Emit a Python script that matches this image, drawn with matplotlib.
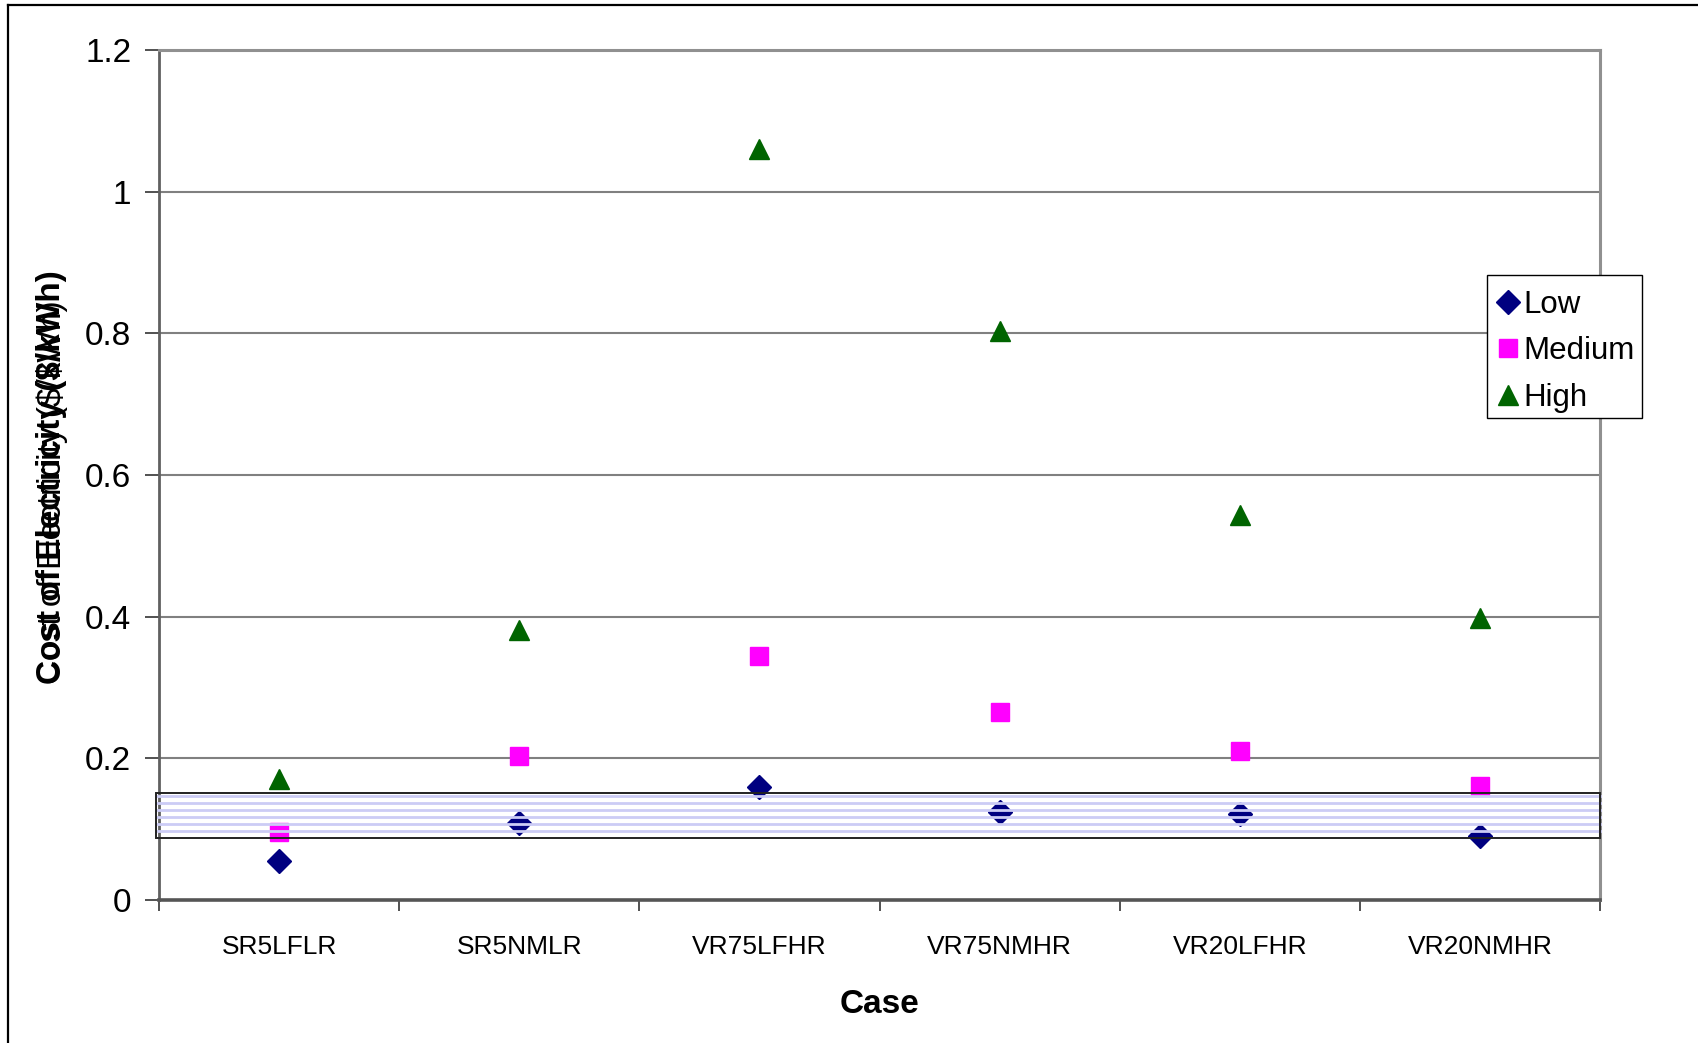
import matplotlib
matplotlib.use("Agg")
import matplotlib.pyplot as plt
from matplotlib.patches import Rectangle
from matplotlib.lines import Line2D

plt.rcParams['font.family'] = ['Liberation Sans', 'DejaVu Sans']

categories = ["SR5LFLR", "SR5NMLR", "VR75LFHR", "VR75NMHR", "VR20LFHR", "VR20NMHR"]
low = [0.055, 0.109, 0.159, 0.124, 0.121, 0.090]
medium = [0.096, 0.203, 0.344, 0.265, 0.211, 0.161]
high = [0.171, 0.381, 1.060, 0.803, 0.544, 0.398]
yticks = [0, 0.2, 0.4, 0.6, 0.8, 1.0, 1.2]
ytick_labels = ["0", "0.2", "0.4", "0.6", "0.8", "1", "1.2"]
band = (0.0875, 0.151)
band_lines = [0.147, 0.137, 0.127, 0.117, 0.107, 0.097]

W, H = 1698, 1043
fig = plt.figure(figsize=(W / 100, H / 100), dpi=100)
fig.patch.set_facecolor('white')

# outer frame (partially visible)
fig.add_artist(Line2D([8 / W, 8 / W], [0, 1 - 5 / H], color='black', lw=1.6, transform=fig.transFigure))
fig.add_artist(Line2D([8 / W, 1], [1 - 5 / H, 1 - 5 / H], color='black', lw=1.6, transform=fig.transFigure))

L, R, T, B = 159, 1600, 50, 900
ax = fig.add_axes([L / W, 1 - B / H, (R - L) / W, (B - T) / H])
x = list(range(len(categories)))
ax.set_xlim(-0.5, len(categories) - 0.5)
ax.set_ylim(0, 1.2)

for yv in yticks[1:]:
    ax.axhline(yv, color='#808080', lw=1.5, zorder=1)

ax.plot(x, low, linestyle='none', marker='D', ms=12, color='#000080', label='Low', zorder=3)
ax.plot(x, medium, linestyle='none', marker='s', ms=13, color='#ff00ff', label='Medium', zorder=3)
ax.plot(x, high, linestyle='none', marker='^', ms=15, color='#006400', label='High', zorder=3)

# odd band
tr = ax.get_yaxis_transform()
for yv in band_lines:
    ax.plot([-0.002, 1.0], [yv, yv], transform=tr, color='#ccccf5', lw=2.0, zorder=4, clip_on=False)
ax.add_patch(Rectangle((-0.002, band[0]), 1.002, band[1] - band[0], transform=tr,
                       fill=False, edgecolor='#222222', lw=1.4, zorder=5, clip_on=False))

ax.set_yticks(yticks)
ax.set_yticklabels(ytick_labels, fontsize=24)
ax.set_xticks(x)
ax.set_xticklabels(categories, fontsize=19)
ax.set_xticks([i - 0.5 for i in range(len(categories) + 1)], minor=True)
ax.tick_params(axis='x', which='major', length=0, pad=25)
ax.tick_params(axis='x', which='minor', length=8, width=1.2, color='#333333', direction='out')
ax.tick_params(axis='y', length=10, width=1.2, color='#333333', direction='out', pad=10)

for s in ['top', 'right']:
    ax.spines[s].set_color('#909090')
    ax.spines[s].set_linewidth(2.2)
ax.spines['left'].set_color('#606060')
ax.spines['left'].set_linewidth(2.0)
ax.spines['bottom'].set_color('#555555')
ax.spines['bottom'].set_linewidth(2.6)

ax.set_xlabel("Case", fontsize=24, fontweight='bold', labelpad=22)

# y label (doubled text as in the reference)
fig.text(52 / W, 1 - 684 / H, "Cost of Electricity ($/kWh)", rotation=90, fontsize=24,
         fontweight='bold', ha='center', va='bottom')
fig.text(52 / W, 1 - 684 / H, "Cost of Electricity ($/kWh)", rotation=90, fontsize=24,
         fontweight='normal', ha='center', va='bottom')

# legend box drawn separately, legend entries without frame
fig.add_artist(Rectangle((1487 / W, 1 - 418 / H), (1642 - 1487) / W, (418 - 275) / H,
                         transform=fig.transFigure, facecolor='white', edgecolor='black', lw=1.0, zorder=6))
leg = ax.legend(loc='upper left', bbox_to_anchor=(1487 / W, 1 - 275 / H), bbox_transform=fig.transFigure,
                fontsize=22.5, frameon=False, borderpad=0.47,
                handletextpad=0.31, handlelength=0.4, labelspacing=0.535, borderaxespad=0)
leg.set_zorder(7)
leg.remove()
fig.add_artist(leg)

fig.savefig("out.png", dpi=100, facecolor='white')
